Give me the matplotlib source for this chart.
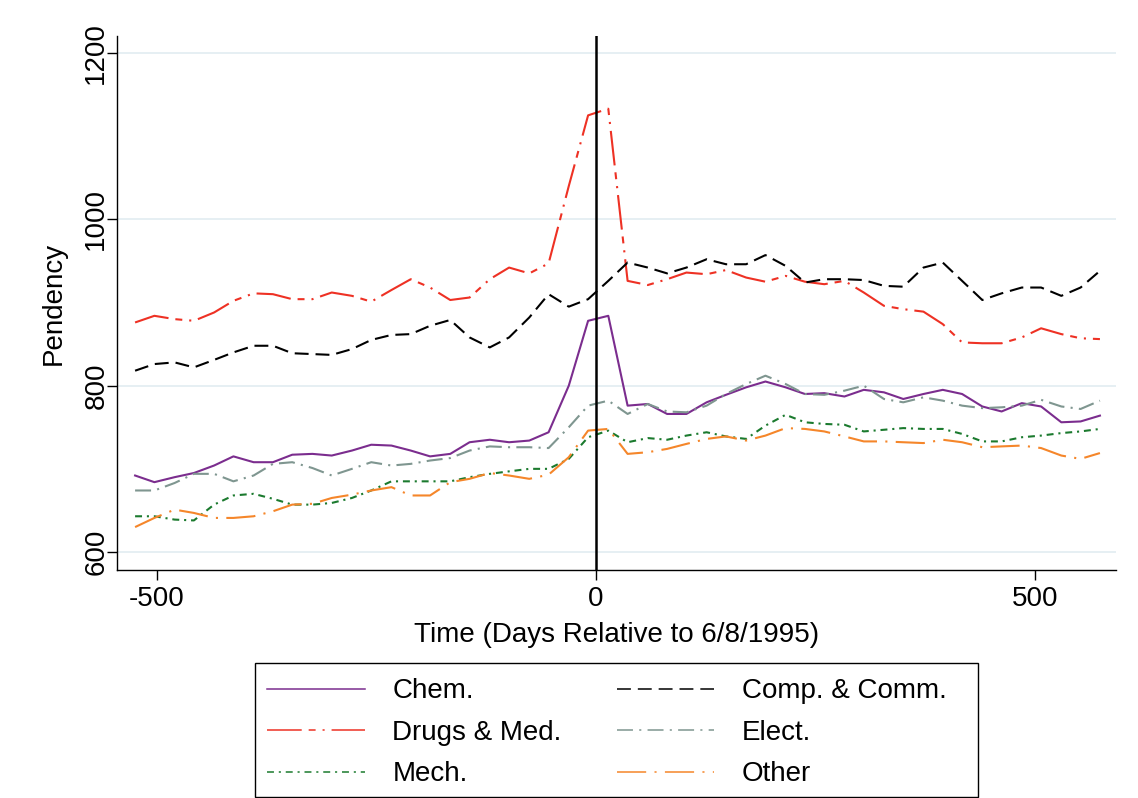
import matplotlib
matplotlib.use("Agg")
import matplotlib.pyplot as plt
from matplotlib.patches import Rectangle

plt.rcParams['font.family'] = ['Liberation Sans', 'DejaVu Sans']
plt.rcParams['lines.scale_dashes'] = False
plt.rcParams['axes.unicode_minus'] = False

# days relative to 6/8/1995
days = [-525, -503, -480, -458, -435, -413, -390, -368, -346, -323,
        -301, -278, -256, -233, -211, -189, -166, -144, -121, -99,
        -76, -54, -31, -9, 14, 36, 59, 81, 103, 126,
        148, 171, 193, 216, 238, 260, 283, 305, 328, 350,
        373, 395, 417, 440, 462, 485, 507, 530, 552, 574]

chem = [692, 684, 690, 695, 704, 715, 708, 708, 717, 718,
        716, 722, 729, 728, 722, 715, 718, 732, 735, 732,
        734, 744, 800, 878, 884, 776, 778, 766, 766, 780,
        789, 798, 805, 798, 790, 791, 787, 795, 792, 784,
        790, 795, 790, 775, 769, 779, 775, 756, 757, 764]

comp = [818, 826, 828, 822, 831, 840, 848, 848, 839, 838,
        837, 844, 855, 861, 862, 872, 879, 858, 846, 858,
        882, 910, 895, 904, 926, 948, 942, 935, 942, 952,
        946, 946, 957, 944, 924, 928, 928, 927, 920, 919,
        942, 948, 926, 903, 911, 918, 918, 908, 918, 938]

drugs = [876, 884, 880, 878, 888, 902, 911, 910, 904, 904,
         912, 908, 901, 915, 928, 918, 903, 906, 928, 942,
         935, 947, 1040, 1125, 1133, 926, 921, 928, 936, 934,
         939, 930, 925, 932, 925, 922, 926, 912, 896, 892,
         889, 874, 852, 851, 851, 858, 869, 862, 857, 856]

elect = [674, 674, 683, 694, 694, 685, 692, 706, 708, 701,
         692, 700, 708, 704, 706, 710, 713, 722, 727, 726,
         726, 725, 750, 776, 782, 766, 778, 769, 768, 776,
         790, 802, 812, 802, 790, 789, 794, 800, 784, 780,
         786, 782, 776, 773, 774, 776, 783, 775, 772, 782]

mech = [643, 643, 639, 638, 657, 668, 670, 664, 657, 657,
        659, 665, 674, 685, 685, 685, 685, 690, 694, 697,
        700, 700, 712, 738, 746, 732, 737, 735, 740, 744,
        739, 736, 752, 765, 756, 754, 753, 745, 747, 749,
        748, 748, 742, 733, 733, 738, 740, 743, 745, 748]

other = [630, 641, 651, 647, 641, 641, 643, 649, 657, 658,
         665, 669, 674, 678, 668, 668, 684, 688, 695, 692,
         688, 693, 714, 746, 748, 718, 720, 724, 730, 736,
         739, 734, 740, 749, 748, 745, 739, 733, 733, 732,
         731, 735, 732, 726, 727, 728, 725, 716, 712, 719]

fig = plt.figure(figsize=(11.38, 7.98), dpi=100)
ax = fig.add_axes([117 / 1138, 1 - 570 / 798, 999 / 1138, 534 / 798])

for v in [600, 800, 1000, 1200]:
    ax.axhline(v, color='#e4eef2', lw=1.3, zorder=0)

lw = 1.5
ax.plot(days, chem, color='#7b2d8e', lw=lw, ls='-', label='Chem.')
ax.plot(days, drugs, color='#ee3124', lw=lw, ls=(0, (25, 5, 5, 5, 1.5, 5)), label='Drugs & Med.')
ax.plot(days, mech, color='#1b7a2e', lw=lw, ls=(0, (5, 3.5, 1.5, 3.5)), label='Mech.')
ax.plot(days, comp, color='black', lw=lw, ls=(0, (10, 5)), label='Comp. & Comm.')
ax.plot(days, elect, color='#7f9690', lw=lw, ls=(0, (11.5, 4.5, 1.5, 4.5)), label='Elect.')
ax.plot(days, other, color='#f5862a', lw=lw, ls=(0, (21, 6, 1.5, 6)), label='Other')

ax.axvline(0, color='black', lw=1.8)

ax.set_xlim(-545.6, 592.3)
ax.set_ylim(578.4, 1220.4)
ax.set_xticks([-500, 0, 500])
ax.set_yticks([600, 800, 1000, 1200])
ax.tick_params(direction='out', length=7.5, width=1, labelsize=20)
ax.tick_params(axis='x', pad=4)
ax.tick_params(axis='y', pad=-2)
plt.setp(ax.get_yticklabels(), rotation=90, va='center', ha='right')

for s in ['top', 'right']:
    ax.spines[s].set_visible(False)
for s in ['left', 'bottom']:
    ax.spines[s].set_linewidth(1)

ax.set_xlabel('Time (Days Relative to 6/8/1995)', fontsize=20)
ax.set_ylabel('Pendency', fontsize=20)
ax.xaxis.set_label_coords(0.5, -0.097)
ax.yaxis.set_label_coords(-0.05, 0.5)

# legend box drawn separately (wider right margin, like the original)
fig.patches.append(Rectangle((255 / 1138, 1 / 798), 723 / 1138, 134 / 798,
                             transform=fig.transFigure, fill=False,
                             edgecolor='black', lw=1.0))
leg = fig.legend(loc='upper left', bbox_to_anchor=(252 / 1138, 1 - 663 / 798),
                 borderaxespad=0, ncol=2, fontsize=20, frameon=False,
                 handlelength=3.5, handletextpad=1.0,
                 columnspacing=2.0, labelspacing=0.56, borderpad=0.55)
for line in leg.get_lines():
    line.set_linewidth(1.1)

fig.savefig('out.png', dpi=100, facecolor='white')
